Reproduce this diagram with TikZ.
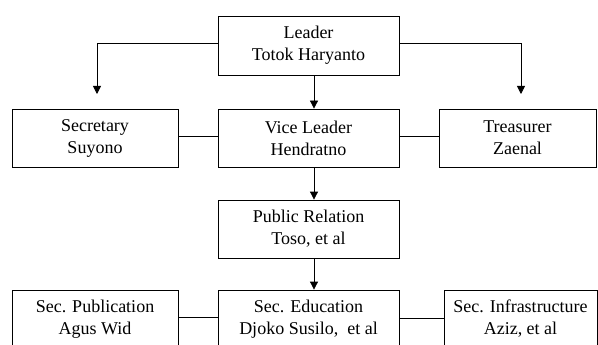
\documentclass[tikz,border=0pt]{standalone}
\usepackage{fontspec}
\setmainfont{Liberation Serif}
\usetikzlibrary{arrows.meta}
\begin{document}
\begin{tikzpicture}[x=1pt,y=-1pt,
 box/.style={draw, line width=0.8pt, align=center, inner sep=0pt, font=\fontsize{18}{22}\selectfont},
 conn/.style={line width=0.8pt},
 arr/.style={conn,-{Triangle[length=8pt,width=8pt]}}]
\useasboundingbox (0,0) rectangle (598,345);
\clip (0,0) rectangle (598,345);
\node[box, minimum width=181pt, minimum height=59pt] (lead) at (308.5,45.5) {Leader\\Totok Haryanto};
\node[box, minimum width=166pt, minimum height=58pt] (sec) at (95,138) {Secretary\\Suyono};
\node[box, minimum width=181pt, minimum height=58pt] (vice) at (308.5,138) {Vice Leader\\Hendratno};
\node[box, minimum width=157pt, minimum height=58pt] (treas) at (517.5,138) {Treasurer\\Zaenal};
\node[box, minimum width=181pt, minimum height=58pt] (pr) at (308.5,229) {Public Relation\\Toso, et al};
\node[box, minimum width=166pt, minimum height=58pt] (pub) at (95,319) {Sec. Publication\\Agus Wid};
\node[box, minimum width=181pt, minimum height=58pt] (edu) at (308.5,319) {Sec. Education\\Djoko Susilo, \ et al};
\node[box, minimum width=153pt, minimum height=58pt] (infra) at (520.5,319) {Sec. Infrastructure\\Aziz, et al};
\coordinate (secArr) at (97,94);
\coordinate (treasArr) at (521,94);
\draw[arr] ([yshift=2.5pt]lead.west) -| (secArr);
\draw[arr] ([yshift=2.5pt]lead.east) -| (treasArr);
\draw[arr] ([xshift=5.5pt]lead.south) -- ([xshift=5.5pt]vice.north);
\draw[arr] ([xshift=5.5pt]vice.south) -- ([xshift=5.5pt]pr.north);
\draw[arr] ([xshift=5.5pt]pr.south) -- ([xshift=5.5pt]edu.north);
\draw[conn] ([yshift=2pt]sec.east) -- ([yshift=2pt]vice.west);
\draw[conn] ([yshift=2pt]vice.east) -- ([yshift=2pt]treas.west);
\draw[conn] ([yshift=2pt]pub.east) -- ([yshift=2pt]edu.west);
\draw[conn] ([yshift=1pt]edu.east) -- ([yshift=1pt]infra.west);
\end{tikzpicture}
\end{document}
